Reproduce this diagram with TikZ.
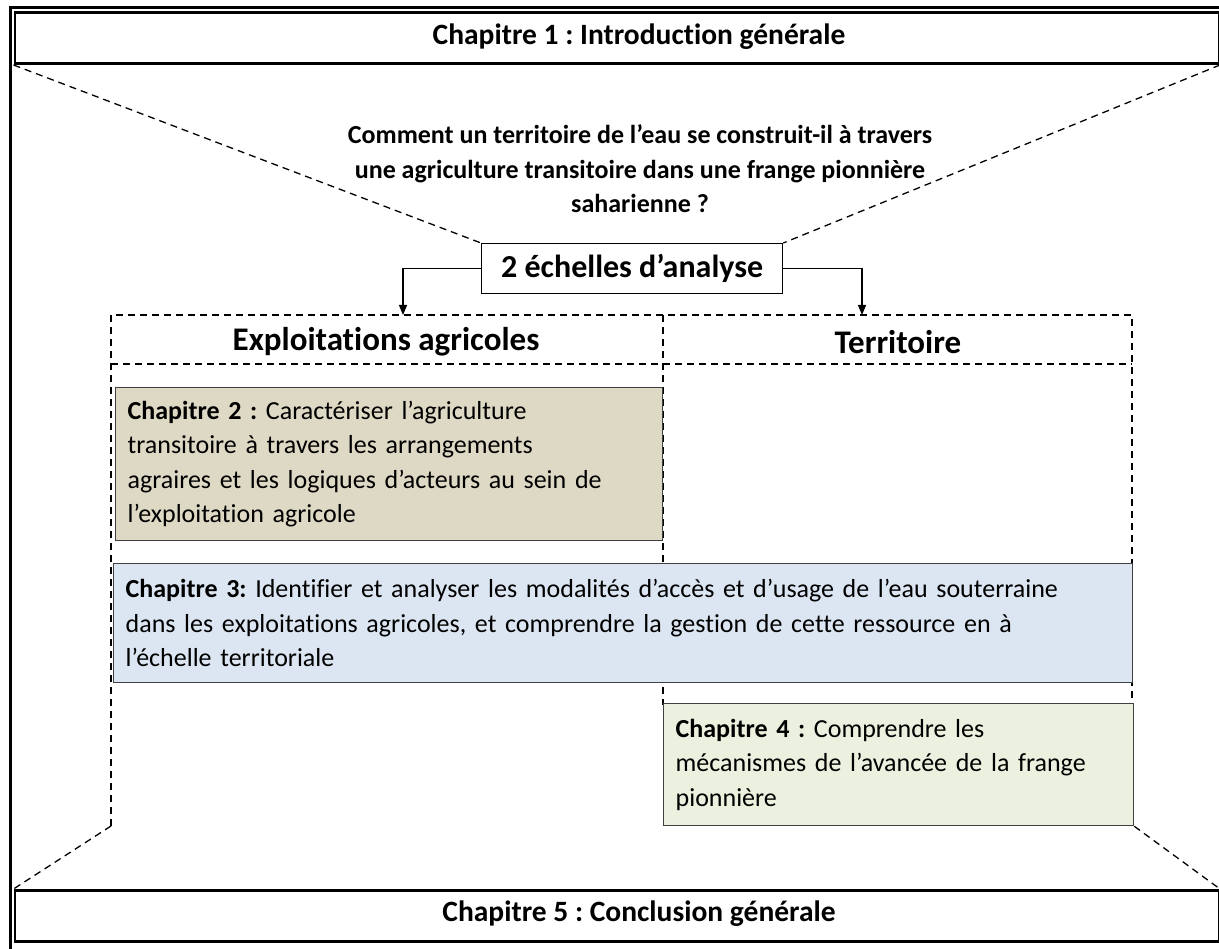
\documentclass[tikz,border=0pt]{standalone}
\usepackage{fontspec}
\setmainfont[Ligatures={NoCommon}]{Carlito}
\usetikzlibrary{arrows.meta}
\definecolor{beige}{HTML}{DDD9C4}
\definecolor{bleu}{HTML}{DCE6F2}
\definecolor{vert}{HTML}{EBF1DE}
\begin{document}
\frenchspacing
\begin{tikzpicture}[x=1pt,y=-1pt,
  dashline/.style={dash pattern=on 7pt off 5pt, line width=1.3pt},
  chapbox/.style={draw=black!75, line width=1.3pt, anchor=north west, inner xsep=12pt, inner ysep=0pt, align=left, font=\fontsize{26}{34.5}\selectfont},
  titlebox/.style={draw, line width=2.5pt, anchor=north west, inner sep=0pt},
  titletext/.style={font=\fontsize{29.5}{32}\selectfont\bfseries},
  headtext/.style={font=\fontsize{33}{36}\selectfont\bfseries},
  arr/.style={-{Triangle[length=10pt,width=8pt]}, line width=1.2pt}]
\useasboundingbox (0,0) rectangle (1219,949);
% outer frame
\draw[line width=2.5pt] (10.5,960) -- (10.5,7.5) -- (1230,7.5);
% chapter 1
\node[titlebox, minimum width=1204pt, minimum height=51pt] (ch1) at (13.5,11.5) {};
\node[titletext] (ch1t) at (639,37) {Chapitre 1 : Introduction générale};
% question
\node[font=\fontsize{26}{34.5}\selectfont\bfseries, align=center] (q) at (640,169)
  {Comment un territoire de l’eau se construit-il à travers\\une agriculture transitoire dans une frange pionnière\\saharienne ?};
% scales box
\node[draw, line width=1.3pt, anchor=north west, minimum width=301pt, minimum height=50pt, inner sep=0pt,
  font=\fontsize{32}{36}\selectfont\bfseries] (sc) at (481,243) {2 échelles d’analyse};
\draw[dashline] (ch1.south west) -- (sc.north west);
\draw[dashline] (ch1.south east) -- (sc.north east);
% container
\coordinate (ctl) at (111,315);
\coordinate (ctr) at (1132,315);
\coordinate (cml) at (111,364);
\coordinate (cmr) at (1132,364);
\coordinate (cbl) at (111,826);
\coordinate (cbr) at (1132,705);
\coordinate (dvt) at (663,315);
\coordinate (dvb) at (663,705);
\coordinate (al) at (403,315);
\coordinate (ar) at (862,315);
\draw[dashline] (cbl) -- (ctl) -- (ctr) -- (cbr);
\draw[dashline] (cml) -- (cmr);
\draw[dashline] (dvt) -- (dvb);
\draw[arr] (sc.west) -| (al);
\draw[arr] (sc.east) -| (ar);
\node[headtext] (h1) at (386,342) {Exploitations agricoles};
\node[headtext] (h2) at (898,342) {Territoire};
% chapters
\node[chapbox, fill=beige, minimum width=547pt, minimum height=153pt, text width=523pt] (ch2) at (115,387)
  {\textbf{Chapitre 2 :} Caractériser l’agriculture\\transitoire à travers les arrangements\\agraires et les logiques d’acteurs au sein de\\l’exploitation agricole};
\node[chapbox, fill=bleu, minimum width=1019pt, minimum height=119pt, text width=995pt] (ch3) at (113,563)
  {\textbf{Chapitre 3:} Identifier et analyser les modalités d’accès et d’usage de l’eau souterraine\\dans les exploitations agricoles, et comprendre la gestion de cette ressource en à\\l’échelle territoriale};
\node[chapbox, fill=vert, minimum width=470pt, minimum height=122pt, text width=446pt] (ch4) at (663,703)
  {\textbf{Chapitre 4 :} Comprendre les\\mécanismes de l’avancée de la frange\\pionnière};
% chapter 5
\node[titlebox, minimum width=1204pt, minimum height=51pt] (ch5) at (13.5,889) {};
\node[titletext] (ch5t) at (639,914) {Chapitre 5 : Conclusion générale};
\draw[dashline] (cbl) -- (ch5.north west);
\draw[dashline] (ch4.south east) -- (ch5.north east);
\end{tikzpicture}
\end{document}
